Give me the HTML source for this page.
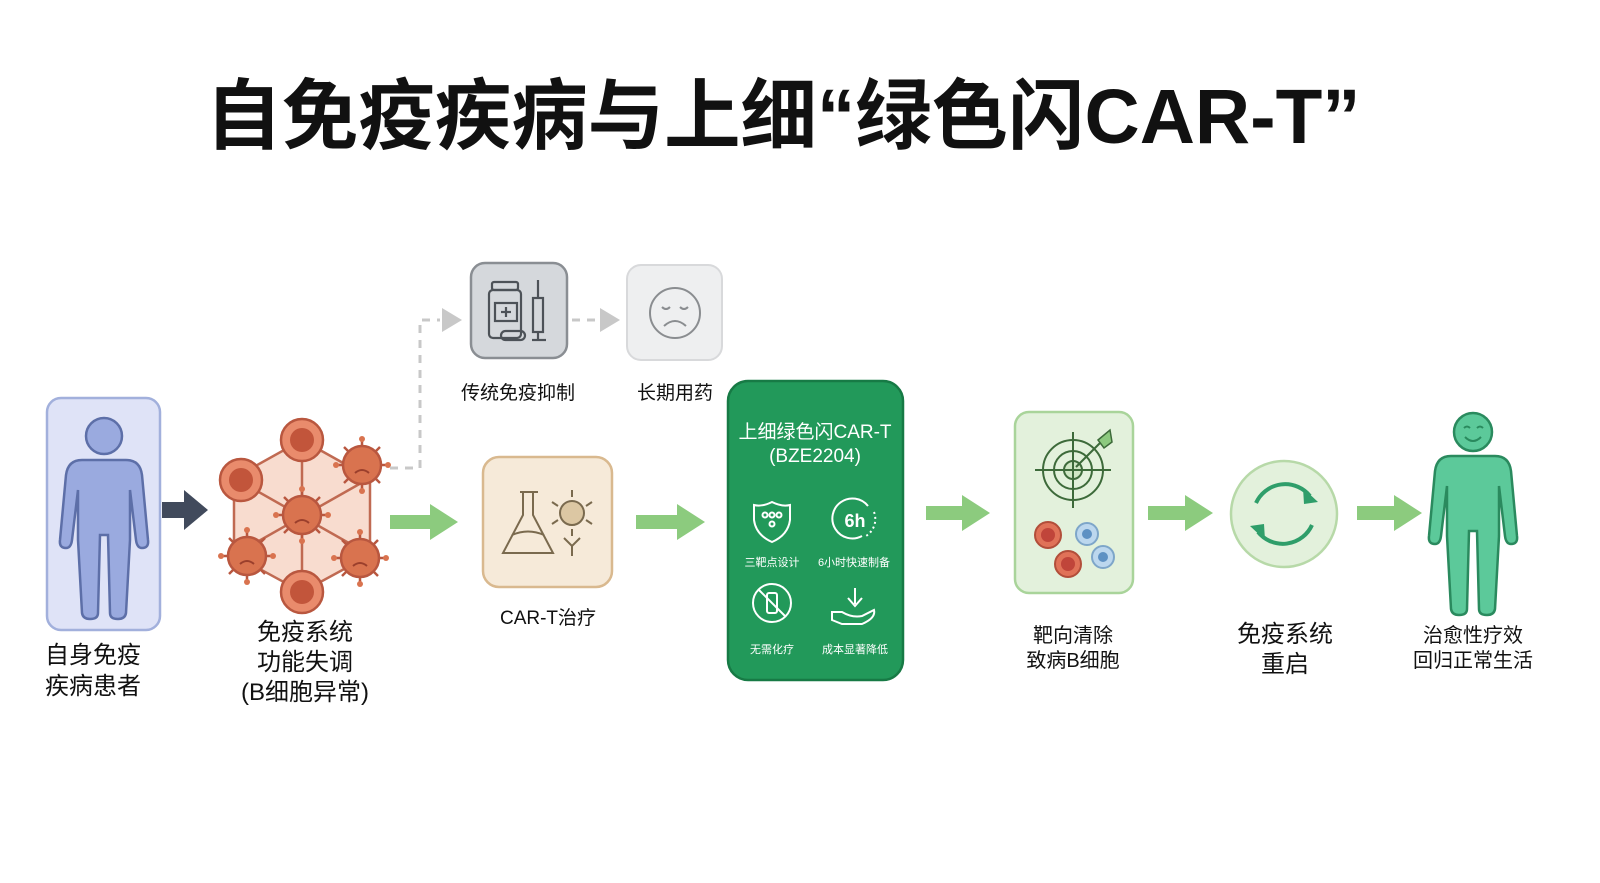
<!DOCTYPE html>
<html><head><meta charset="utf-8"><style>
html,body{margin:0;padding:0;background:#fff;}
svg{display:block;font-family:"Liberation Sans","Noto Sans CJK SC",sans-serif;}
</style></head><body>
<svg width="1600" height="883" viewBox="0 0 1600 883" xmlns="http://www.w3.org/2000/svg">
<defs>
<path id="body" d="M -22,460 L 22,460 Q 36,460 38,475 L 44,540 Q 45,548 38,548 Q 33,548 32,540 L 26,490 L 26,540 L 22,613 Q 21,619 14,619 Q 6,619 6,613 L 4,535 L -4,535 L -6,613 Q -6,619 -14,619 Q -21,619 -22,613 L -26,540 L -26,490 L -32,540 Q -33,548 -38,548 Q -45,548 -44,540 L -38,475 Q -36,460 -22,460 Z"/>
<g id="virus">
<g stroke="#b9573f" stroke-width="2.5">
<line x1="-26" y1="0" x2="26" y2="0"/><line x1="0" y1="-26" x2="0" y2="26"/>
<line x1="-18" y1="-18" x2="18" y2="18"/><line x1="-18" y1="18" x2="18" y2="-18"/>
</g>
<circle r="19" fill="#d9734f" stroke="#b9573f" stroke-width="2.5"/>
<circle cx="0" cy="-26" r="3" fill="#d9734f"/><circle cx="0" cy="26" r="3" fill="#d9734f"/>
<circle cx="-26" cy="0" r="3" fill="#d9734f"/><circle cx="26" cy="0" r="3" fill="#d9734f"/>
<path d="M -7,8 Q 0,2 7,8" stroke="#9b3f2c" stroke-width="2" fill="none"/>
</g>
<g id="rcell"><circle r="21" fill="#e98b6c" stroke="#b9573f" stroke-width="2.5"/><circle r="12" fill="#c2553b"/></g>
</defs>

<!-- Title -->
<text x="783" y="143" font-size="77" font-weight="bold" text-anchor="middle" fill="#111" textLength="1155" lengthAdjust="spacingAndGlyphs">自免疫疾病与上细“绿色闪CAR-T”</text>

<!-- Patient -->
<rect x="47" y="398" width="113" height="232" rx="14" fill="#dfe3f7" stroke="#a2b0dc" stroke-width="2.5"/>
<g transform="translate(104,0)" fill="#9aaadf" stroke="#5d6fa8" stroke-width="2.5">
<circle cx="0" cy="436" r="18"/><use href="#body"/></g>
<text font-size="24" text-anchor="middle" fill="#111"><tspan x="93" y="663">自身免疫</tspan><tspan x="93" y="694">疾病患者</tspan></text>

<!-- dark arrow -->
<polygon points="162,502 184,502 184,490 208,510 184,530 184,518 162,518" fill="#414a5c"/>

<!-- cell cluster -->
<polygon points="302,440 370,478 370,555 302,592 234,555 234,478" fill="#f8dccf" stroke="#c06a52" stroke-width="2.5"/>
<g stroke="#c06a52" stroke-width="2.5"><line x1="302" y1="440" x2="302" y2="592"/><line x1="234" y1="478" x2="370" y2="555"/><line x1="370" y1="478" x2="234" y2="555"/></g>
<use href="#rcell" x="302" y="440"/><use href="#rcell" x="241" y="480"/><use href="#rcell" x="302" y="592"/>
<use href="#virus" x="302" y="515"/><use href="#virus" x="362" y="465"/><use href="#virus" x="247" y="556"/><use href="#virus" x="360" y="558"/>
<text font-size="24" text-anchor="middle" fill="#111"><tspan x="305" y="640">免疫系统</tspan><tspan x="305" y="670">功能失调</tspan><tspan x="305" y="700">(B细胞异常)</tspan></text>

<!-- dashed path -->
<path d="M 390,468 L 420,468 L 420,320 L 440,320" stroke="#c8c8c8" stroke-width="3" fill="none" stroke-dasharray="8 7"/>
<polygon points="442,308 462,320 442,332" fill="#c8c8c8"/>
<rect x="471" y="263" width="96" height="95" rx="14" fill="#d5d8dc" stroke="#8a8e93" stroke-width="2.5"/>
<g stroke="#4d5258" stroke-width="2.2" fill="none">
<rect x="492" y="282" width="26" height="8" rx="2"/><rect x="489" y="290" width="32" height="48" rx="4"/>
<rect x="495" y="303" width="22" height="18"/><line x1="506" y1="307" x2="506" y2="317"/><line x1="501" y1="312" x2="511" y2="312"/>
<rect x="501" y="331" width="24" height="9" rx="4.5"/>
<rect x="533" y="298" width="10" height="34"/><line x1="538" y1="280" x2="538" y2="298"/><line x1="532" y1="340" x2="546" y2="340"/><line x1="538" y1="332" x2="538" y2="340"/>
</g>
<text x="518" y="399" font-size="19" text-anchor="middle" fill="#111">传统免疫抑制</text>
<line x1="572" y1="320" x2="596" y2="320" stroke="#c8c8c8" stroke-width="3" stroke-dasharray="8 7"/>
<polygon points="600,308 620,320 600,332" fill="#c8c8c8"/>
<rect x="627" y="265" width="95" height="95" rx="14" fill="#eeeff0" stroke="#d8d9db" stroke-width="2"/>
<g stroke="#8a8d90" stroke-width="2" fill="none"><circle cx="675" cy="313" r="25"/>
<path d="M 662,307 Q 666,311 670,307 M 680,307 Q 684,311 688,307 M 664,326 Q 675,316 686,326"/></g>
<text x="675" y="399" font-size="19" text-anchor="middle" fill="#111">长期用药</text>

<!-- green arrows -->
<g fill="#8ccb7e">
<polygon points="390,515 430,515 430,504 458,522 430,540 430,529 390,529"/>
<polygon points="636,515 677,515 677,504 705,522 677,540 677,529 636,529"/>
<polygon points="926,506 962,506 962,495 990,513 962,531 962,520 926,520"/>
<polygon points="1148,506 1185,506 1185,495 1213,513 1185,531 1185,520 1148,520"/>
<polygon points="1357,506 1394,506 1394,495 1422,513 1394,531 1394,520 1357,520"/>
</g>

<!-- CAR-T -->
<rect x="483" y="457" width="129" height="130" rx="16" fill="#f6ead9" stroke="#d9b98f" stroke-width="2.5"/>
<g stroke="#7a6a4e" stroke-width="2" fill="none">
<path d="M 520,492 L 538,492 M 523,492 L 523,515 L 503,553 L 553,553 L 533,515 L 533,492"/>
<path d="M 512,535 Q 528,528 544,535"/>
<circle cx="572" cy="513" r="12" fill="#dcc7a3"/>
<path d="M 572,490 L 572,497 M 572,529 L 572,536 M 552,502 L 558,506 M 586,520 L 592,524 M 552,524 L 558,520 M 586,506 L 592,502"/>
<path d="M 564,538 L 572,546 L 580,538 M 572,546 L 572,556"/>
</g>
<text x="548" y="624" font-size="19" text-anchor="middle" fill="#111">CAR-T治疗</text>

<!-- Green card -->
<rect x="728" y="381" width="175" height="299" rx="20" fill="#22995a" stroke="#177a45" stroke-width="2.5"/>
<text font-size="19" text-anchor="middle" fill="#fff"><tspan x="815" y="438">上细绿色闪CAR-T</tspan><tspan x="815" y="462">(BZE2204)</tspan></text>
<g stroke="#fff" stroke-width="2" fill="none">
<path d="M 772,502 Q 762,507 754,505 L 754,520 Q 756,535 772,542 Q 788,535 790,520 L 790,505 Q 782,507 772,502 Z"/>
<circle cx="765" cy="515" r="2.5"/><circle cx="772" cy="515" r="2.5"/><circle cx="779" cy="515" r="2.5"/><circle cx="772" cy="524" r="2.5"/>
<path d="M 868,506 A 20,20 0 1 0 862,536" />
<path d="M 874,512 A 20,20 0 0 1 866,536" stroke-dasharray="2 3"/>
<circle cx="772" cy="603" r="19"/><line x1="759" y1="590" x2="785" y2="616"/>
<rect x="767" y="593" width="10" height="20" rx="2"/>
<path d="M 855,588 L 855,604 M 848,598 L 855,606 L 862,598"/>
<path d="M 832,612 L 842,612 Q 852,618 862,616 L 874,610 Q 876,618 862,624 L 842,624 L 832,620 Z"/>
</g>
<text x="855" y="527" font-size="18" font-weight="bold" text-anchor="middle" fill="#fff">6h</text>
<g font-size="11" text-anchor="middle" fill="#fff"><text x="772" y="566">三靶点设计</text><text x="854" y="566">6小时快速制备</text>
<text x="772" y="653">无需化疗</text><text x="855" y="653">成本显著降低</text></g>

<!-- Target box -->
<rect x="1015" y="412" width="118" height="181" rx="14" fill="#e3f1dc" stroke="#a9d49a" stroke-width="2.5"/>
<g stroke="#3d6a3a" stroke-width="2" fill="none"><circle cx="1073" cy="470" r="30"/><circle cx="1073" cy="470" r="19"/><circle cx="1073" cy="470" r="9" fill="#cfe6c4"/>
<line x1="1035" y1="470" x2="1111" y2="470"/><line x1="1073" y1="432" x2="1073" y2="508"/>
<line x1="1076" y1="467" x2="1102" y2="441"/></g>
<polygon points="1098,440 1110,430 1112,442 1104,448" fill="#8cc97e" stroke="#3d6a3a" stroke-width="1.5"/>
<g stroke-width="2"><circle cx="1048" cy="535" r="13" fill="#e07258" stroke="#b24e3a"/><circle cx="1048" cy="535" r="7" fill="#c0453a" stroke="none"/>
<circle cx="1068" cy="564" r="13" fill="#e07258" stroke="#b24e3a"/><circle cx="1068" cy="564" r="7" fill="#c0453a" stroke="none"/>
<circle cx="1087" cy="534" r="11" fill="#bcd7ee" stroke="#7ea6c9"/><circle cx="1087" cy="534" r="5" fill="#5e91c3" stroke="none"/>
<circle cx="1103" cy="557" r="11" fill="#bcd7ee" stroke="#7ea6c9"/><circle cx="1103" cy="557" r="5" fill="#5e91c3" stroke="none"/></g>
<text font-size="20" text-anchor="middle" fill="#111"><tspan x="1073" y="642">靶向清除</tspan><tspan x="1073" y="667">致病B细胞</tspan></text>

<!-- Restart -->
<circle cx="1284" cy="514" r="53" fill="#e3f1dc" stroke="#b7d9a8" stroke-width="2.5"/>
<g stroke="#2f9e6a" stroke-width="4" fill="none"><path d="M 1256,503 A 32,32 0 0 1 1310,496"/><path d="M 1312,525 A 32,32 0 0 1 1258,532"/></g>
<polygon points="1303,488 1318,502 1304,504" fill="#2f9e6a"/><polygon points="1265,540 1250,526 1264,524" fill="#2f9e6a"/>
<text font-size="24" text-anchor="middle" fill="#111"><tspan x="1285" y="642">免疫系统</tspan><tspan x="1285" y="672">重启</tspan></text>

<!-- Healthy person -->
<g transform="translate(1473,-4)" fill="#5cc99a" stroke="#2a8a5e" stroke-width="2.5">
<circle cx="0" cy="436" r="19"/><use href="#body"/></g>
<g stroke="#2a8a5e" stroke-width="2" fill="none"><path d="M 1464,428 Q 1467,425 1470,428 M 1477,428 Q 1480,425 1483,428 M 1465,437 Q 1473,445 1481,437"/></g>
<text font-size="20" text-anchor="middle" fill="#111"><tspan x="1473" y="642">治愈性疗效</tspan><tspan x="1473" y="667">回归正常生活</tspan></text>
</svg>
</body></html>
